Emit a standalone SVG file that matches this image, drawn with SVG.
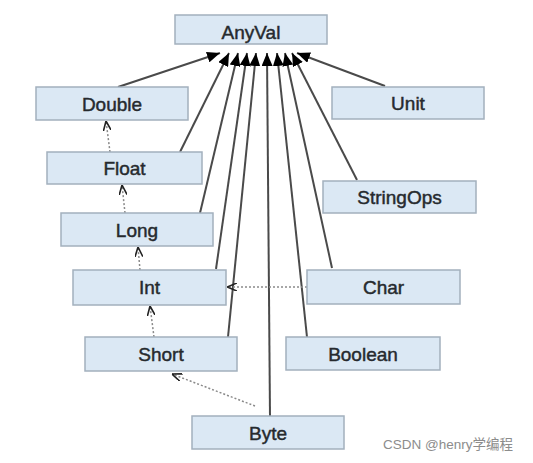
<svg xmlns="http://www.w3.org/2000/svg" width="533" height="463" viewBox="0 0 533 463">
<style>
.box{fill:#dbe8f4;stroke:#a3b0bd;stroke-width:1.5}
.lbl{font-family:"Liberation Sans",Arial,sans-serif;font-size:19px;fill:#262a2e;stroke:#262a2e;stroke-width:0.45;text-anchor:middle}
.solid{stroke:#4a4a4a;stroke-width:2;fill:none;marker-end:url(#tri)}
.dash{stroke:#8a8a8a;stroke-width:1.5;stroke-dasharray:2 2;fill:none;marker-end:url(#vee)}
.wm{font-family:"Liberation Sans","Noto Sans CJK SC",sans-serif;font-size:13.5px;fill:#8c8c8c}
</style>
<defs>
<marker id="tri" viewBox="0 0 13 11" refX="13" refY="5.5" markerWidth="13" markerHeight="11" markerUnits="userSpaceOnUse" orient="auto">
<path d="M0,0 L13,5.5 L0,11 z" fill="#000"/>
</marker>
<marker id="vee" viewBox="0 0 10 8" refX="10" refY="4" markerWidth="10" markerHeight="8" markerUnits="userSpaceOnUse" orient="auto">
<path d="M0,0 L10,4 L0,8" fill="none" stroke="#222" stroke-width="1.6"/>
</marker>
</defs>
<rect width="533" height="463" fill="#fff"/>
<g id="connectors">
<line class="solid" x1="118" y1="87" x2="220" y2="53"/>
<line class="solid" x1="180" y1="152" x2="229" y2="53"/>
<line class="solid" x1="200" y1="213" x2="238" y2="53"/>
<line class="solid" x1="216" y1="269" x2="247" y2="53"/>
<line class="solid" x1="228" y1="337" x2="256" y2="53"/>
<line class="solid" x1="270" y1="416" x2="267" y2="53"/>
<line class="solid" x1="307" y1="337" x2="277" y2="53"/>
<line class="solid" x1="332" y1="268" x2="285" y2="53"/>
<line class="solid" x1="357" y1="180" x2="292" y2="53"/>
<line class="solid" x1="385" y1="86" x2="297" y2="53"/>
<line class="dash" x1="110" y1="152" x2="106" y2="121"/>
<line class="dash" x1="125" y1="213" x2="122" y2="185"/>
<line class="dash" x1="140" y1="270" x2="138" y2="247"/>
<line class="dash" x1="154" y1="337" x2="150" y2="306"/>
<line class="dash" x1="255" y1="406" x2="172" y2="374"/>
<line class="dash" x1="307" y1="287" x2="227" y2="287"/>
</g>
<g id="AnyVal"><rect class="box" x="175" y="15" width="152" height="29"/><text class="lbl" x="251" y="38.5">AnyVal</text></g>
<g id="Double"><rect class="box" x="36" y="87" width="152" height="33"/><text class="lbl" x="112" y="110.5">Double</text></g>
<g id="Float"><rect class="box" x="47" y="152" width="155" height="32"/><text class="lbl" x="124.5" y="175">Float</text></g>
<g id="Long"><rect class="box" x="61" y="213" width="152" height="33"/><text class="lbl" x="137" y="236.5">Long</text></g>
<g id="Int"><rect class="box" x="73" y="270" width="153" height="35"/><text class="lbl" x="149.5" y="294">Int</text></g>
<g id="Short"><rect class="box" x="85" y="337" width="152" height="34"/><text class="lbl" x="161" y="360.5">Short</text></g>
<g id="Byte"><rect class="box" x="192" y="416" width="152" height="33"/><text class="lbl" x="268" y="439.5">Byte</text></g>
<g id="Unit"><rect class="box" x="332" y="87" width="152" height="32"/><text class="lbl" x="408" y="110">Unit</text></g>
<g id="StringOps"><rect class="box" x="323" y="181" width="153" height="32"/><text class="lbl" x="399.5" y="204">StringOps</text></g>
<g id="Char"><rect class="box" x="307" y="270" width="153" height="34"/><text class="lbl" x="383.5" y="293.5">Char</text></g>
<g id="Boolean"><rect class="box" x="286" y="337" width="154" height="33"/><text class="lbl" x="363" y="360.5">Boolean</text></g>
<text class="wm" x="383" y="449">CSDN @henry学编程</text>
</svg>
